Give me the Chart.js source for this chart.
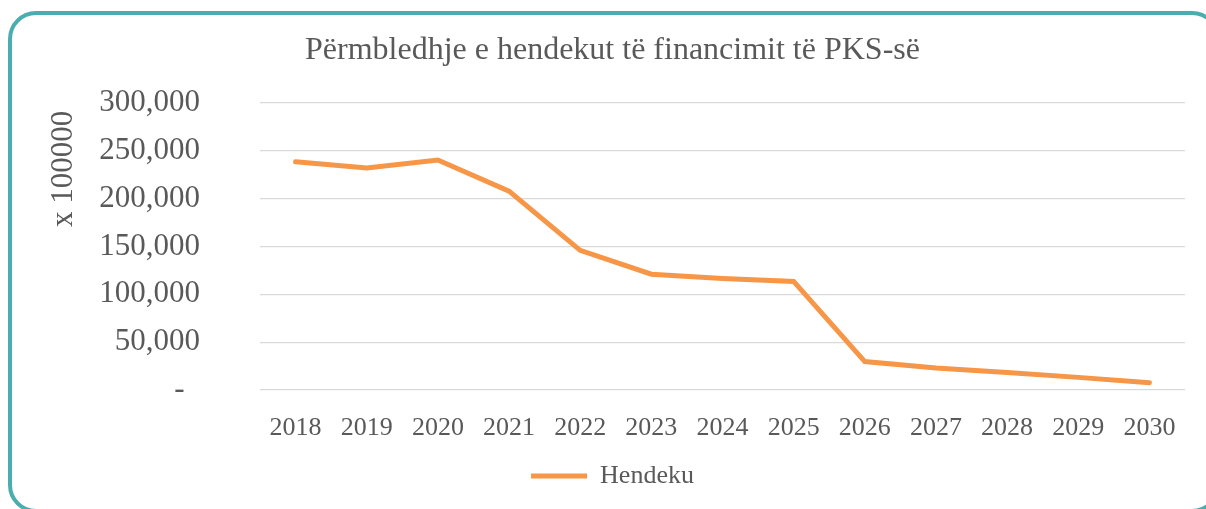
<!DOCTYPE html>
<html>
<head>
<meta charset="utf-8">
<script src="https://cdn.jsdelivr.net/npm/chart.js@4"></script>
<style>
  html, body { margin: 0; padding: 0; background: #fff; overflow: hidden; }
  #wrap { position: relative; width: 1206px; height: 509px; }
  #chart { position: absolute; left: 0; top: 0; }
  #frame {
    position: absolute; left: 8px; top: 11px; width: 1212px; height: 502px;
    box-sizing: border-box; border: 4px solid #4BAEAE; border-radius: 28px;
    pointer-events: none;
  }
</style>
</head>
<body>
<div id="wrap">
  <canvas id="chart" width="1206" height="509"></canvas>
  <div id="frame"></div>
</div>
<script>
// chart data
const years = ['2018', '2019', '2020', '2021', '2022', '2023', '2024',
               '2025', '2026', '2027', '2028', '2029', '2030'];
const hendeku = [238600, 232000, 240400, 207900, 146000, 121000, 116500,
                 113500, 29700, 23100, 18400, 13200, 7700];
const yTicks = [0, 50000, 100000, 150000, 200000, 250000, 300000];

const textColor = '#595959';
Chart.defaults.font.family = "'Liberation Serif', 'Times New Roman', serif";
Chart.defaults.color = textColor;

const ctx = document.getElementById('chart').getContext('2d');
new Chart(ctx, {
  type: 'line',
  data: {
    labels: years,
    datasets: [{
      label: 'Hendeku',
      data: hendeku,
      borderColor: '#F79646',
      backgroundColor: '#F79646',
      borderWidth: 5,
      borderCapStyle: 'round',
      borderJoinStyle: 'miter',
      pointRadius: 0,
      tension: 0,
      fill: false
    }]
  },
  options: {
    responsive: false,
    animation: false,
    layout: { padding: { top: 20, left: 40, right: 21, bottom: 10 } },
    plugins: {
      title: {
        display: true,
        text: 'Përmbledhje e hendekut të financimit të PKS-së',
        color: textColor,
        font: { size: 32, weight: 'normal' },
        padding: { top: 11, bottom: 33.6 }
      },
      legend: {
        position: 'bottom',
        labels: {
          color: textColor,
          font: { size: 26 },
          usePointStyle: true,
          pointStyle: 'line',
          pointStyleWidth: 56,
          padding: 10
        }
      },
      tooltip: { enabled: false }
    },
    scales: {
      x: {
        offset: true,
        grid: { display: false },
        border: { display: false },
        ticks: { font: { size: 26 }, color: textColor, padding: 15 },
        afterFit: s => { s.height = 63; }
      },
      y: {
        min: 0,
        max: 300000,
        afterBuildTicks: s => { s.ticks = yTicks.map(v => ({ value: v })); },
        grid: { color: '#D9D9D9', lineWidth: 1.3, drawTicks: false },
        border: { display: false },
        ticks: {
          font: { size: 31 },
          color: textColor,
          padding: 60,
          // accounting style: zero shown as a dash, set in from the right
          callback: v => v === 0 ? '-  ' : v.toLocaleString('en-US')
        },
        title: {
          display: true,
          text: 'x 100000 ',
          align: 'end',
          color: textColor,
          font: { size: 31 },
          padding: { top: 5, bottom: 0 }
        },
        afterFit: s => { s.width = 220; }
      }
    }
  }
});
</script>
</body>
</html>
